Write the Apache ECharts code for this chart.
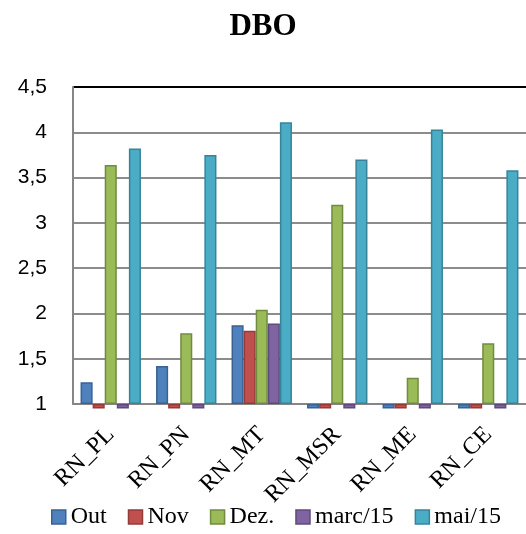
<!DOCTYPE html>
<html>
<head>
<meta charset="utf-8">
<script src="https://cdn.jsdelivr.net/npm/echarts@6/dist/echarts.min.js"></script>
<style>
  html, body { margin: 0; padding: 0; background: #fff; }
  #chart { width: 526px; height: 534px; }
</style>
</head>
<body>
<div id="chart"></div>
<script>
// Sampling sites
const categories = ['RN_PL', 'RN_PN', 'RN_MT', 'RN_MSR', 'RN_ME', 'RN_CE'];

// DBO readings per campaign (values under 1 sit just below the axis floor)
const seriesNames = ['Out', 'Nov', 'Dez.', 'marc/15', 'mai/15'];
const outValues  = [1.24, 1.42, 1.87, 0.95, 0.95, 0.95];
const novValues  = [0.95, 0.95, 1.81, 0.95, 0.95, 0.95];
const dezValues  = [3.64, 1.78, 2.04, 3.20, 1.29, 1.67];
const marcValues = [0.95, 0.95, 1.89, 0.95, 0.95, 0.95];
const maiValues  = [3.82, 3.75, 4.11, 3.70, 4.03, 3.58];

const yTickLabels = ['1', '1,5', '2', '2,5', '3', '3,5', '4', '4,5'];

const fills   = ['#4F81BD', '#C0504D', '#9BBB59', '#8064A2', '#4BACC6'];
const borders = ['#3A6290', '#933B39', '#718B40', '#5F4A7A', '#37849A'];
const valueSets = [outValues, novValues, dezValues, marcValues, maiValues];

const chart = echarts.init(document.getElementById('chart'), null, { renderer: 'canvas' });

const series = seriesNames.map((name, i) => ({
  name: name,
  type: 'bar',
  data: valueSets[i],
  clip: false,
  barGap: '0%',
  barCategoryGap: '20%',
  itemStyle: { color: fills[i], borderColor: borders[i], borderWidth: 1.5 }
}));

chart.setOption({
  animation: false,
  backgroundColor: '#fff',
  title: {
    text: 'DBO',
    left: 'center',
    top: 6,
    textStyle: { fontFamily: 'Liberation Serif', fontSize: 31, fontWeight: 'bold', color: '#000' }
  },
  legend: {
    bottom: 0,
    left: 46,
    itemWidth: 14,
    itemHeight: 14,
    itemGap: 21,
    icon: 'rect',
    textStyle: { fontFamily: 'Liberation Serif', fontSize: 24, color: '#000' },
    data: seriesNames.map((n, i) => ({ name: n, itemStyle: { borderColor: borders[i], borderWidth: 1.5 } }))
  },
  grid: { left: 73, right: -11, top: 87, bottom: 130 },
  xAxis: {
    type: 'category',
    data: categories,
    axisLine: { lineStyle: { color: '#868686', width: 2 } },
    axisTick: { show: false },
    axisLabel: {
      rotate: 45,
      margin: 27,
      fontFamily: 'Liberation Serif',
      fontSize: 24,
      color: '#000'
    }
  },
  yAxis: {
    type: 'value',
    min: 1,
    max: 4.5,
    interval: 0.5,
    startValue: 1,
    axisLine: { show: true, lineStyle: { color: '#868686', width: 2 } },
    axisTick: { show: false },
    splitLine: {
      lineStyle: {
        color: ['#8C8C8C', '#8C8C8C', '#8C8C8C', '#8C8C8C', '#8C8C8C', '#8C8C8C', '#8C8C8C', '#000'],
        width: 2
      }
    },
    axisLabel: {
      margin: 26,
      fontFamily: 'Liberation Sans',
      fontSize: 21,
      color: '#000',
      formatter: (v) => yTickLabels[Math.round((v - 1) / 0.5)]
    }
  },
  series: series
});
</script>
</body>
</html>
